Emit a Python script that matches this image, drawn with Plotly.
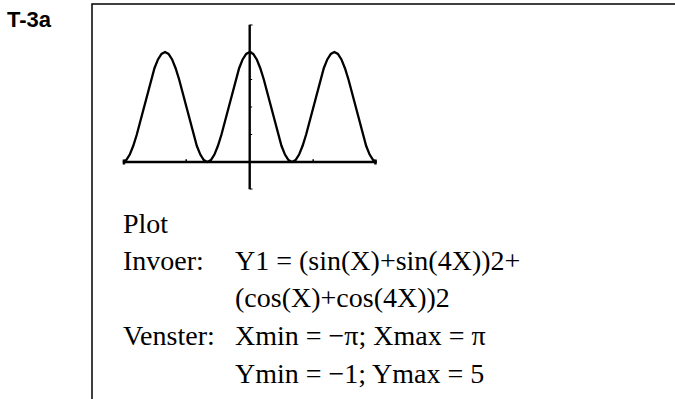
import numpy as np
import plotly.graph_objects as go

# Y1 = (sin X + sin 4X)^2 + (cos X + cos 4X)^2 sampled over one window
y_values = [
    0.00, 0.07, 0.27, 0.59, 1.00, 1.48, 2.00, 2.52, 3.00, 3.41, 3.73, 3.93,
    4.00, 3.93, 3.73, 3.41, 3.00, 2.52, 2.00, 1.48, 1.00, 0.59, 0.27, 0.07,
    0.00, 0.07, 0.27, 0.59, 1.00, 1.48, 2.00, 2.52, 3.00, 3.41, 3.73, 3.93,
    4.00, 3.93, 3.73, 3.41, 3.00, 2.52, 2.00, 1.48, 1.00, 0.59, 0.27, 0.07,
    0.00, 0.07, 0.27, 0.59, 1.00, 1.48, 2.00, 2.52, 3.00, 3.41, 3.73, 3.93,
    4.00, 3.93, 3.73, 3.41, 3.00, 2.52, 2.00, 1.48, 1.00, 0.59, 0.27, 0.07,
    0.00,
]
x_min, x_max = -np.pi, np.pi
y_min, y_max = -1, 5
x_values = np.linspace(x_min, x_max, len(y_values))
x_ticks = [-np.pi / 2, np.pi / 2]
y_ticks = [1, 2, 3, 4]

label_title = "T-3a"
text_rows = [
    ("Plot", ""),
    ("Invoer:", "Y1 = (sin(X)+sin(4X))2+"),
    ("", "(cos(X)+cos(4X))2"),
    ("Venster:", "Xmin = −π; Xmax = π"),
    ("", "Ymin = −1; Ymax = 5"),
]

W, H = 675, 399


def px(x):
    return x / W


def py(y):
    return 1 - y / H


fig = go.Figure()

# calculator screen axes
fig.add_trace(go.Scatter(x=[x_min, x_max], y=[0, 0], mode="lines",
                         line=dict(color="black", width=2.4), hoverinfo="skip"))
fig.add_trace(go.Scatter(x=[0, 0], y=[y_min, y_max], mode="lines",
                         line=dict(color="black", width=2.4), hoverinfo="skip"))
# bracket ends on the y axis
for yv in (y_min, y_max):
    fig.add_trace(go.Scatter(x=[0, 0.07], y=[yv, yv], mode="lines",
                             line=dict(color="black", width=2), hoverinfo="skip"))
# tick marks
for yv in y_ticks:
    fig.add_trace(go.Scatter(x=[0, 0.06], y=[yv, yv], mode="lines",
                             line=dict(color="black", width=1.2), hoverinfo="skip"))
for xv in x_ticks:
    fig.add_trace(go.Scatter(x=[xv, xv], y=[0, 0.1], mode="lines",
                             line=dict(color="black", width=1.5), hoverinfo="skip"))

# the graph itself
fig.add_trace(go.Scatter(x=x_values, y=y_values, mode="lines",
                         line=dict(color="black", width=2.3), hoverinfo="skip"))
# heavier pixels where the curve meets the window edges
fig.add_trace(go.Scatter(x=[x_values[0], x_values[-1]], y=[y_values[0], y_values[-1]],
                         mode="markers", marker=dict(symbol="square", size=5, color="black"),
                         hoverinfo="skip"))

annotations = [
    dict(text=f"<b>{label_title}</b>", x=px(5), y=py(19.5), xref="paper", yref="paper",
         xanchor="left", yanchor="middle", showarrow=False,
         font=dict(family="Liberation Sans, Arial", size=22, color="black")),
]
baselines = [231.7, 269.5, 306.5, 344.0, 382.5]
fs = 28
for (lab, val), base in zip(text_rows, baselines):
    yc = py(base - 0.31 * fs)
    if lab:
        annotations.append(dict(text=lab, x=px(120.5), y=yc, xref="paper", yref="paper",
                                xanchor="left", yanchor="middle", showarrow=False,
                                font=dict(family="Liberation Serif, Times New Roman", size=fs,
                                          color="black")))
    if val:
        annotations.append(dict(text=val, x=px(232.5), y=yc, xref="paper", yref="paper",
                                xanchor="left", yanchor="middle", showarrow=False,
                                font=dict(family="Liberation Serif, Times New Roman", size=fs,
                                          color="black")))

fig.update_layout(
    width=W, height=H,
    margin=dict(l=0, r=0, t=0, b=0),
    paper_bgcolor="white", plot_bgcolor="white",
    showlegend=False,
    xaxis=dict(range=[x_min, x_max], domain=[px(122.7), px(376.7)], visible=False,
               fixedrange=True),
    yaxis=dict(range=[y_min, y_max], domain=[py(189.5), py(24.5)], visible=False,
               fixedrange=True),
    annotations=annotations,
    shapes=[dict(type="rect", xref="paper", yref="paper",
                 x0=px(92), x1=1.02, y0=-0.02, y1=py(4),
                 line=dict(color="black", width=1.5), fillcolor="rgba(0,0,0,0)")],
)

fig.write_html("out.html")
